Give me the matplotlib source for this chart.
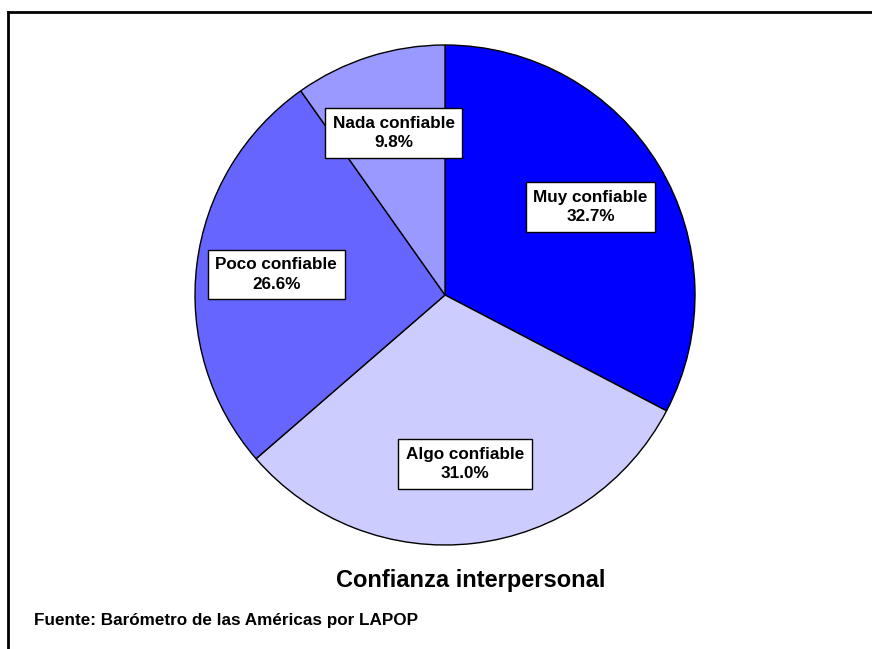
import numpy as np
import matplotlib.pyplot as plt

plt.rcParams['font.family'] = ['Liberation Sans', 'DejaVu Sans']

# Interpersonal trust shares (percent), clockwise from the top
categorias = ['Muy confiable', 'Algo confiable', 'Poco confiable', 'Nada confiable']
porcentajes = [32.7, 31.0, 26.6, 9.8]
colores = ['#0000FF', '#CCCCFF', '#6666FF', '#9999FF']

W, H = 872, 649
fig = plt.figure(figsize=(W / 100, H / 100), dpi=100)
ax = fig.add_axes([0, 0, 1, 1])

etiquetas = [f'{c}\n{p:.1f}%' for c, p in zip(categorias, porcentajes)]
wedges, textos = ax.pie(porcentajes, labels=etiquetas, colors=colores,
                        startangle=90, counterclock=False,
                        center=(445, H - 295), radius=250,
                        labeldistance=0.68, frame=True,
                        wedgeprops=dict(edgecolor='black', linewidth=1.0))
ax.set_xlim(0, W)
ax.set_ylim(0, H)
ax.set_aspect('equal')
ax.axis('off')

for t in textos:
    t.set_ha('center')
    t.set_va('center')
    t.set_fontsize(12.3)
    t.set_fontweight('bold')
    t.set_linespacing(1.35)
    t.set_bbox(dict(boxstyle='square,pad=0.45', facecolor='white',
                    edgecolor='black', linewidth=1.0))

# Outer frame: left and top edges only
ax.plot([8, 8], [0, H - 11.5], color='black', linewidth=2, clip_on=False)
ax.plot([8, W], [H - 11.5, H - 11.5], color='black', linewidth=2, clip_on=False)

ax.text(471, H - 581, 'Confianza interpersonal', ha='center', va='center',
        fontsize=17, fontweight='bold')
ax.text(34, H - 621, 'Fuente: Barómetro de las Américas por LAPOP',
        ha='left', va='center', fontsize=12.3, fontweight='bold')

fig.savefig('out.png', dpi=100)
